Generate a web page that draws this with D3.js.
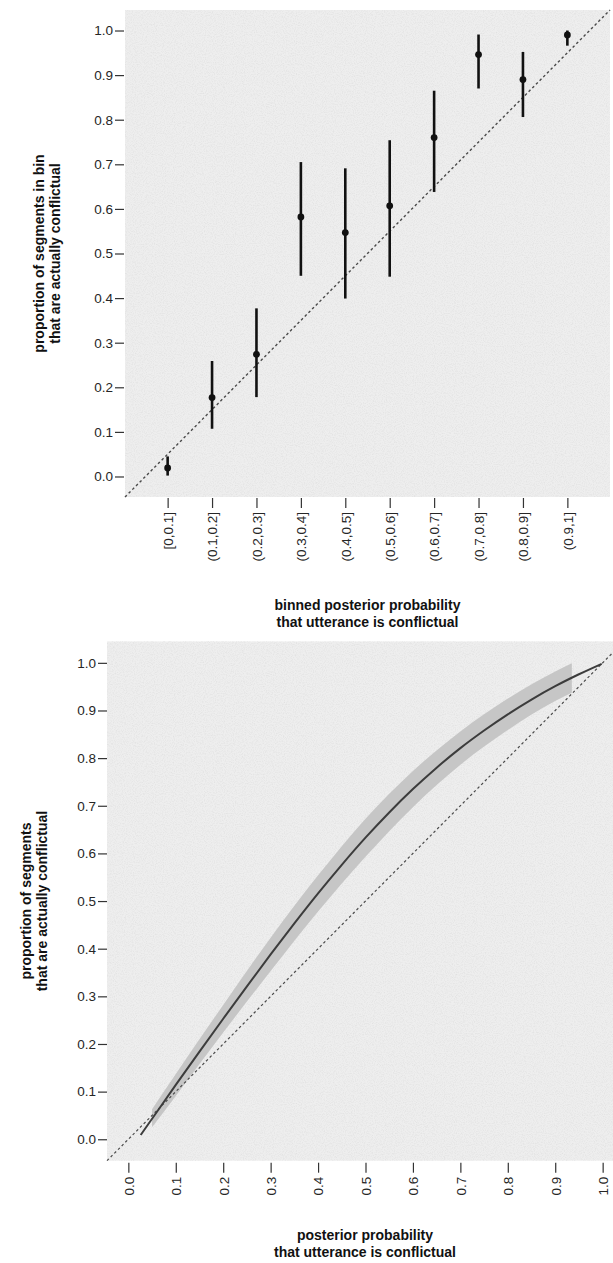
<!DOCTYPE html>
<html>
<head>
<meta charset="utf-8">
<script src="https://cdnjs.cloudflare.com/ajax/libs/d3/7.8.5/d3.min.js"></script>
<style>
  html, body { margin: 0; padding: 0; background: #fff; }
  svg { display: block; font-family: "Liberation Sans", Arial, Helvetica, sans-serif; }
</style>
</head>
<body>
<svg id="chart" width="613" height="1263"></svg>
<script>
// ---- calibration by bins ----
const binLabels = ["[0,0.1]", "(0.1,0.2]", "(0.2,0.3]", "(0.3,0.4]", "(0.4,0.5]",
                   "(0.5,0.6]", "(0.6,0.7]", "(0.7,0.8]", "(0.8,0.9]", "(0.9,1]"];
const binProportion = [0.019, 0.177, 0.274, 0.582, 0.547, 0.607, 0.760, 0.946, 0.890, 0.990];
const binLower      = [0.002, 0.107, 0.178, 0.450, 0.399, 0.448, 0.638, 0.870, 0.806, 0.966];
const binUpper      = [0.045, 0.259, 0.377, 0.705, 0.691, 0.754, 0.865, 0.991, 0.952, 1.000];

// ---- smoothed calibration curve ----
const fitX = [0.026, 0.05, 0.10, 0.15, 0.20, 0.25, 0.30, 0.35, 0.40, 0.45, 0.50,
              0.55, 0.60, 0.65, 0.70, 0.75, 0.80, 0.85, 0.90, 0.95, 0.998];
const fitY = [0.009, 0.043, 0.114, 0.184, 0.253, 0.321, 0.388, 0.453, 0.516, 0.576, 0.633,
              0.686, 0.735, 0.780, 0.821, 0.858, 0.892, 0.923, 0.951, 0.976, 0.998];
const bandX     = [0.05, 0.10, 0.20, 0.30, 0.40, 0.50, 0.60, 0.70, 0.80, 0.90, 0.935];
const bandLower = [0.025, 0.091, 0.224, 0.353, 0.478, 0.593, 0.697, 0.786, 0.859, 0.920, 0.937];
const bandUpper = [0.063, 0.137, 0.282, 0.423, 0.554, 0.673, 0.773, 0.856, 0.925, 0.982, 0.999];

const yTicks = [0, 0.1, 0.2, 0.3, 0.4, 0.5, 0.6, 0.7, 0.8, 0.9, 1.0];
const xTicks = [0, 0.1, 0.2, 0.3, 0.4, 0.5, 0.6, 0.7, 0.8, 0.9, 1.0];

const svg = d3.select("#chart");
const fmt = d3.format(".1f");
const textColor = "#262626";
const tickColor = "#333";

// paper grain on the panels
const defs = svg.append("defs");
const grain = defs.append("filter").attr("id", "grain")
  .attr("x", 0).attr("y", 0).attr("width", "100%").attr("height", "100%");
grain.append("feTurbulence").attr("type", "fractalNoise")
  .attr("baseFrequency", 0.9).attr("numOctaves", 2).attr("seed", 3).attr("result", "n");
grain.append("feColorMatrix").attr("type", "matrix")
  .attr("values", "0 0 0 0 0.55  0 0 0 0 0.55  0 0 0 0 0.55  0 0 0 -1.6 0.95");

function panel(g, x0, y0, w, h) {
  g.append("rect").attr("x", x0).attr("y", y0).attr("width", w).attr("height", h)
    .attr("fill", "#eeeeee");
  g.append("rect").attr("x", x0).attr("y", y0).attr("width", w).attr("height", h)
    .attr("fill", "#fff").attr("filter", "url(#grain)").attr("opacity", 0.35);
}

function styleAxis(a) {
  a.select(".domain").remove();
  a.selectAll(".tick line").attr("stroke", tickColor).attr("stroke-width", 1.2);
  a.selectAll(".tick text").attr("fill", textColor)
    .style("font-size", "13.5px").style("font-family", "'Liberation Sans', Arial, sans-serif");
}

function rotateLabels(a, offset) {
  a.selectAll(".tick text")
    .attr("y", 0).attr("x", -offset).attr("dy", "0.36em")
    .attr("transform", "rotate(-90)")
    .style("text-anchor", "end");
}

// =============== top panel: binned calibration ===============
{
  const L = 125, R = 610, T = 10, B = 497;
  const dom = [-0.046, 1.046];
  const xLin = d3.scaleLinear().domain(dom).range([L, R]);
  const y = d3.scaleLinear().domain(dom).range([B, T]);
  const step = xLin(0.1) - xLin(0);
  const pad = (xLin(0.05) - L) / step;
  const xCat = d3.scalePoint().domain(binLabels).range([L, R]).padding(pad);

  const g = svg.append("g");
  panel(g, L, T, R - L, B - T);

  // identity reference
  g.append("line")
    .attr("x1", xLin(dom[0])).attr("y1", y(dom[0]))
    .attr("x2", xLin(dom[1])).attr("y2", y(dom[1]))
    .attr("stroke", "#4a4a4a").attr("stroke-width", 1.4).attr("stroke-dasharray", "2.6,2.6");

  // confidence intervals
  g.selectAll("line.ci").data(binLabels).join("line").attr("class", "ci")
    .attr("x1", d => xCat(d)).attr("x2", d => xCat(d))
    .attr("y1", (d, i) => y(binLower[i])).attr("y2", (d, i) => y(binUpper[i]))
    .attr("stroke", "#111").attr("stroke-width", 2.6);

  g.selectAll("circle.pt").data(binLabels).join("circle").attr("class", "pt")
    .attr("cx", d => xCat(d)).attr("cy", (d, i) => y(binProportion[i]))
    .attr("r", 3.4).attr("fill", "#111");

  const ya = svg.append("g").attr("transform", `translate(${L - 1},0)`)
    .call(d3.axisLeft(y).tickValues(yTicks).tickFormat(fmt).tickSizeOuter(0).tickSize(9).tickPadding(2));
  styleAxis(ya);

  const xa = svg.append("g").attr("transform", `translate(0,${B + 1})`)
    .call(d3.axisBottom(xCat).tickSizeOuter(0).tickSize(10));
  styleAxis(xa);
  rotateLabels(xa, 14);

  const xt = svg.append("text").attr("x", (L + R) / 2).attr("y", 610)
    .attr("text-anchor", "middle").attr("fill", "#111")
    .style("font-weight", "bold").style("font-size", "14px");
  xt.append("tspan").attr("x", (L + R) / 2).text("binned posterior probability");
  xt.append("tspan").attr("x", (L + R) / 2).attr("dy", 16.5).text("that utterance is conflictual");

  const yt = svg.append("text").attr("transform", `translate(44,${(T + B) / 2}) rotate(-90)`)
    .attr("text-anchor", "middle").attr("fill", "#111")
    .style("font-weight", "bold").style("font-size", "14px");
  yt.append("tspan").attr("x", 0).text("proportion of segments in bin");
  yt.append("tspan").attr("x", 0).attr("dy", 16).text("that are actually conflictual");
}

// =============== bottom panel: smoothed calibration ===============
{
  const L = 107, R = 624, T = 641.4, B = 1160.7;
  const dom = [-0.045, 1.045];
  const x = d3.scaleLinear().domain(dom).range([L, R]);
  const y = d3.scaleLinear().domain(dom).range([B, T]);

  const g = svg.append("g");
  panel(g, L, T, R - L, B - T);

  const area = d3.area().curve(d3.curveMonotoneX)
    .x((d, i) => x(bandX[i]))
    .y0((d, i) => y(bandLower[i]))
    .y1((d, i) => y(bandUpper[i]));
  g.append("path").datum(bandX).attr("d", area).attr("fill", "#c6c6c6");

  g.append("line")
    .attr("x1", x(dom[0])).attr("y1", y(dom[0]))
    .attr("x2", x(dom[1])).attr("y2", y(dom[1]))
    .attr("stroke", "#4a4a4a").attr("stroke-width", 1.2).attr("stroke-dasharray", "2.6,2.6");

  const line = d3.line().curve(d3.curveMonotoneX)
    .x((d, i) => x(fitX[i])).y((d, i) => y(fitY[i]));
  g.append("path").datum(fitX).attr("d", line)
    .attr("fill", "none").attr("stroke", "#3c3c3c").attr("stroke-width", 2);

  const ya = svg.append("g").attr("transform", `translate(${L},0)`)
    .call(d3.axisLeft(y).tickValues(yTicks).tickFormat(fmt).tickSizeOuter(0).tickSize(9).tickPadding(2));
  styleAxis(ya);

  const xa = svg.append("g").attr("transform", `translate(0,${B + 2})`)
    .call(d3.axisBottom(x).tickValues(xTicks).tickFormat(fmt).tickSizeOuter(0).tickSize(10));
  styleAxis(xa);
  rotateLabels(xa, 14);

  const cx = 365;
  const xt = svg.append("text").attr("x", cx).attr("y", 1240)
    .attr("text-anchor", "middle").attr("fill", "#111")
    .style("font-weight", "bold").style("font-size", "14px");
  xt.append("tspan").attr("x", cx).text("posterior probability");
  xt.append("tspan").attr("x", cx).attr("dy", 16.5).text("that utterance is conflictual");

  const yt = svg.append("text").attr("transform", `translate(31,${(T + B) / 2}) rotate(-90)`)
    .attr("text-anchor", "middle").attr("fill", "#111")
    .style("font-weight", "bold").style("font-size", "14px");
  yt.append("tspan").attr("x", 0).text("proportion of segments");
  yt.append("tspan").attr("x", 0).attr("dy", 16).text("that are actually conflictual");
}
</script>
</body>
</html>
